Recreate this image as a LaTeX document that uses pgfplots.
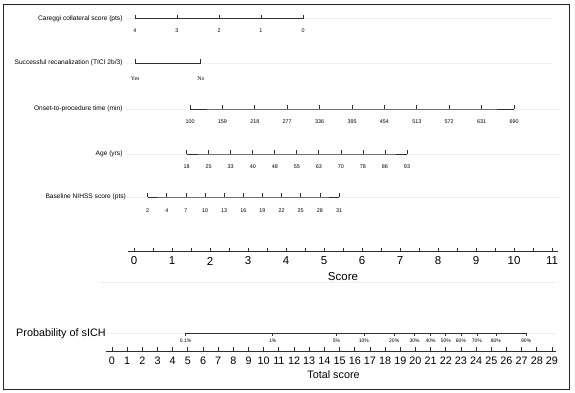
\documentclass[border=0pt]{standalone}
\usepackage{pgfplots}
\pgfplotsset{compat=1.18}
\usepackage{fontspec}
\setmainfont{Liberation Sans}
\newfontfamily\serifyn{Liberation Serif}
\definecolor{ln}{HTML}{2E2E2E}
\definecolor{faint}{HTML}{F0F0F0}
\newcommand{\fs}[1]{\fontsize{#1}{#1}\selectfont}

\pgfplotstableread{
x y l
0.026 18.5 4
1.13 18.5 3
2.24 18.5 2
3.34 18.5 1
4.45 18.5 0
}\careggi
\pgfplotstableread{
x y l
0.03 63 Yes
1.76 63 No
}\recan
\pgfplotstableread{
x y l
1.474 109 100
2.326 109 159
3.179 109 218
4.032 109 277
4.884 109 336
5.737 109 395
6.589 109 454
7.442 109 513
8.295 109 572
9.147 109 631
10.0 109 690
}\onset
\pgfplotstableread{
x y l
1.387 154 18
1.967 154 25
2.546 154 33
3.126 154 40
3.706 154 48
4.286 154 55
4.865 154 63
5.445 154 70
6.025 154 78
6.604 154 86
7.184 154 93
}\age
\pgfplotstableread{
x y l
0.361 197 2
0.864 197 4
1.368 197 7
1.871 197 10
2.375 197 13
2.878 197 16
3.381 197 19
3.885 197 22
4.388 197 25
4.892 197 28
5.395 197 31
}\nihss
\pgfplotstableread{
x y l
4.85 333 0.1\%
10.6 333 1\%
14.8 333 5\%
16.6 333 10\%
18.6 333 20\%
19.95 333 30\%
21.0 333 40\%
22.0 333 50\%
23.0 333 60\%
24.05 333 70\%
25.3 333 80\%
27.3 333 90\%
}\prob

\pgfplotsset{
  base/.style={scale only axis, width=575pt, height=392pt, at={(0,0)}, anchor=south west,
    ymin=0, ymax=392, y dir=reverse, hide axis, clip=false},
  rowplot/.style={ln, line width=1pt, mark=|, mark size=2pt,
    mark options={yshift=2pt, line width=0.8pt},
    nodes near coords, point meta=explicit symbolic,
    every node near coord/.append style={anchor=center, yshift=-#1pt, text=black, font=\fs{5.4}}},
}

\begin{document}
\begin{tikzpicture}
% ---------- upper part: score units ----------
\begin{axis}[base, xmin=-3.526, xmax=11.605]
\path (rel axis cs:0,0) rectangle (rel axis cs:1,1);
% faint row guides
\addplot[faint, line width=0.8pt] coordinates {(-0.21,18.5) (11.0,18.5)};
\addplot[faint, line width=0.8pt] coordinates {(-0.21,63) (11.0,63)};
\addplot[faint, line width=0.8pt] coordinates {(-0.21,109) (11.2,109)};
\addplot[faint, line width=0.8pt] coordinates {(-0.21,154) (11.2,154)};
\addplot[faint, line width=0.8pt] coordinates {(-0.21,197) (11.2,197)};
\addplot[faint, line width=0.8pt] coordinates {(-0.9,282) (11.1,282)};

\addplot[rowplot=14.5] table[x=x,y=y,meta=l] {\careggi};
\addplot[rowplot=18, every node near coord/.append style={font=\serifyn\fs{5.8}}] table[x=x,y=y,meta=l] {\recan};
\addplot[rowplot=15] table[x=x,y=y,meta=l] {\onset};
\addplot[rowplot=15] table[x=x,y=y,meta=l] {\age};
\addplot[rowplot=16] table[x=x,y=y,meta=l] {\nihss};

\node[anchor=east, font=\fs{6.6}] at (axis cs:-0.21,18.5) {Careggi collateral score (pts)};
\node[anchor=east, font=\fs{6.6}] at (axis cs:-0.21,63) {Successful recanalization (TICI 2b/3)};
\node[anchor=east, font=\fs{6.6}] at (axis cs:-0.21,109) {Onset-to-procedure time (min)};
\node[anchor=east, font=\fs{6.6}] at (axis cs:-0.21,154) {Age (yrs)};
\node[anchor=east, font=\fs{6.6}] at (axis cs:-0.12,197) {Baseline NIHSS score (pts)};

% Score axis
\addplot[ln, line width=0.9pt] coordinates {(-0.158,251.5) (11.158,251.5)};
\addplot[ln, only marks, mark=|, mark size=2pt, mark options={yshift=2pt, line width=0.8pt},
  nodes near coords, point meta=explicit symbolic,
  every node near coord/.append style={anchor=center, yshift=-11.5pt, text=black, font=\fs{11.5}}]
  table[meta=l] {
x y l
0 251.5 0
1 251.5 1
2 251.5 2
3 251.5 3
4 251.5 4
5 251.5 5
6 251.5 6
7 251.5 7
8 251.5 8
9 251.5 9
10 251.5 10
11 251.5 11
};
\addplot[ln, only marks, mark=|, mark size=2pt, mark options={yshift=2pt, line width=0.8pt}]
  coordinates {(0.5,251.5) (1.5,251.5) (2.5,251.5) (3.5,251.5) (4.5,251.5) (5.5,251.5)
  (6.5,251.5) (7.5,251.5) (8.5,251.5) (9.5,251.5) (10.5,251.5)};
\node[font=\fs{11.5}] at (axis cs:5.5,276.5) {Score};
\end{axis}

% ---------- lower part: total score units ----------
\begin{axis}[base, xmin=-7.382, xmax=30.517]
\addplot[faint, line width=0.8pt] coordinates {(-0.6,333) (29.3,333)};
\addplot[ln, line width=1pt, mark=|, mark size=1.5pt,
    mark options={yshift=-1.5pt, line width=0.7pt},
    nodes near coords, point meta=explicit symbolic,
    every node near coord/.append style={anchor=center, yshift=-6.5pt, text=black, font=\fs{5}}]
  table[x=x,y=y,meta=l] {\prob};
\node[anchor=west, font=\fs{10.8}] at (axis cs:-6.545,334) {Probability of sICH};

\addplot[ln, line width=0.9pt] coordinates {(-0.4,351) (29.25,351)};
\addplot[ln, only marks, mark=|, mark size=1.8pt, mark options={yshift=1.8pt, line width=0.8pt},
  nodes near coords, point meta=explicit symbolic,
  every node near coord/.append style={anchor=center, yshift=-12pt, text=black, font=\fs{10.8}}]
  table[meta=l] {
x y l
0 351 0
1 351 1
2 351 2
3 351 3
4 351 4
5 351 5
6 351 6
7 351 7
8 351 8
9 351 9
10 351 10
11 351 11
12 351 12
13 351 13
14 351 14
15 351 15
16 351 16
17 351 17
18 351 18
19 351 19
20 351 20
21 351 21
22 351 22
23 351 23
24 351 24
25 351 25
26 351 26
27 351 27
28 351 28
29 351 29
};
\node[font=\fs{10.8}] at (axis cs:14.6,375) {Total score};
\end{axis}

% frame
\draw[black!85, line width=1pt] (3.5pt,392pt-5pt) rectangle (569.5pt,392pt-389pt);
\end{tikzpicture}
\end{document}
